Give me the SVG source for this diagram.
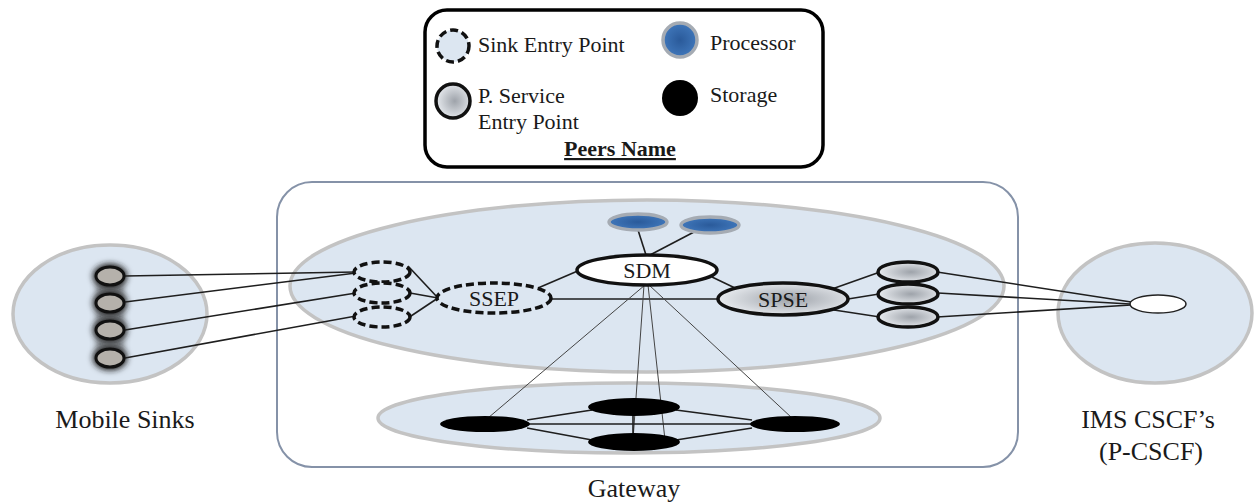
<svg xmlns="http://www.w3.org/2000/svg" width="1254" height="502" viewBox="0 0 1254 502">
  <defs>
    <radialGradient id="gPSE" cx="55%" cy="50%" r="60%">
      <stop offset="0" stop-color="#9ea3aa"/>
      <stop offset="1" stop-color="#eef1f5"/>
    </radialGradient>
    <radialGradient id="gProc" cx="50%" cy="50%" r="55%">
      <stop offset="0" stop-color="#2a5a9a"/>
      <stop offset="1" stop-color="#4179bd"/>
    </radialGradient>
    <filter id="halo" x="-50%" y="-50%" width="200%" height="200%">
      <feGaussianBlur stdDeviation="3"/>
    </filter>
  </defs>
  <style>
    .cloud { fill: #dce6f1; stroke: #c3c3c3; stroke-width: 3.5; }
    text { font-family: "Liberation Serif", "Times New Roman", "DejaVu Serif", serif; fill: #1a1a1a; }
    .lbl { font-size: 26px; text-anchor: middle; }
    .node-t { font-size: 22px; text-anchor: middle; }
    .leg-t { font-size: 22px; }
    .sep { fill: #dce6f1; stroke: #111; stroke-width: 3.5; stroke-dasharray: 8 4; }
    .pse { fill: url(#gPSE); stroke: #111; stroke-width: 3.5; }
    .proc { fill: url(#gProc); stroke: #a5abb3; stroke-width: 3.5; }
    .stor { fill: #000; }
    .sink { fill: #b5b1ab; stroke: #111; stroke-width: 3; }
    .edge { stroke: #1e1e1e; stroke-width: 1.6; fill: none; }
    .thin { stroke: #444; stroke-width: 1; fill: none; }
  </style>

  <!-- Legend -->
  <g id="legend">
    <rect x="425" y="10" width="398" height="157" rx="22" fill="#fff" stroke="#000" stroke-width="3.5"/>
    <circle cx="453" cy="46" r="16" class="sep"/>
    <text x="478" y="52" class="leg-t">Sink Entry Point</text>
    <circle cx="680" cy="40" r="17" class="proc"/>
    <text x="710" y="50" class="leg-t">Processor</text>
    <circle cx="453" cy="101" r="17" class="pse"/>
    <text x="478" y="103" class="leg-t">P. Service</text>
    <text x="478" y="129" class="leg-t">Entry Point</text>
    <circle cx="680" cy="98" r="18" class="stor"/>
    <text x="710" y="102" class="leg-t">Storage</text>
    <text x="620" y="156" class="node-t" font-weight="bold" text-decoration="underline">Peers Name</text>
  </g>

  <!-- Containers -->
  <g id="gateway">
    <rect x="277" y="182" width="741" height="285" rx="35" fill="#fff" stroke="#8592a8" stroke-width="2"/>
    <ellipse cx="647" cy="286" rx="357" ry="86" class="cloud"/>
    <ellipse cx="629" cy="418" rx="251" ry="35" class="cloud"/>
    <text x="634" y="497" class="lbl" font-size="24">Gateway</text>
  </g>
  <g id="mobile-sinks">
    <ellipse cx="110" cy="314" rx="97" ry="69" class="cloud"/>
    <text x="125" y="428" class="lbl">Mobile Sinks</text>
  </g>
  <g id="ims">
    <ellipse cx="1155" cy="313" rx="97" ry="70" class="cloud"/>
    <text x="1148" y="428" class="lbl">IMS CSCF’s</text>
    <text x="1151" y="460" class="lbl">(P-CSCF)</text>
  </g>

  <!-- Connectors -->
  <g id="connectors">
    <line x1="125" y1="276" x2="356" y2="272" class="edge"/>
    <line x1="125" y1="302" x2="356" y2="273" class="edge"/>
    <line x1="125" y1="330" x2="356" y2="293" class="edge"/>
    <line x1="125" y1="358" x2="356" y2="316" class="edge"/>
    <line x1="408" y1="266" x2="438" y2="298" class="edge"/>
    <line x1="410" y1="293" x2="438" y2="298" class="edge"/>
    <line x1="408" y1="318" x2="438" y2="298" class="edge"/>
    <line x1="538" y1="288" x2="580" y2="270" class="edge"/>
    <line x1="551" y1="299" x2="718" y2="299" class="edge"/>
    <line x1="638" y1="230" x2="646" y2="255" class="edge"/>
    <line x1="694" y1="232" x2="650" y2="255" class="edge"/>
    <line x1="712" y1="277" x2="735" y2="288" class="edge"/>
    <line x1="832" y1="289" x2="880" y2="272" class="edge"/>
    <line x1="848" y1="299" x2="879" y2="294" class="edge"/>
    <line x1="834" y1="310" x2="880" y2="317" class="edge"/>
    <line x1="937" y1="272" x2="1131" y2="302" class="edge"/>
    <line x1="938" y1="293" x2="1130" y2="304" class="edge"/>
    <line x1="937" y1="317" x2="1131" y2="305" class="edge"/>
    <line x1="645" y1="285" x2="488" y2="418" class="thin"/>
    <line x1="644" y1="285" x2="633" y2="440" class="thin"/>
    <line x1="648" y1="285" x2="665" y2="440" class="thin"/>
    <line x1="649" y1="285" x2="792" y2="418" class="thin"/>
    <line x1="527" y1="420" x2="592" y2="410" class="edge"/>
    <line x1="527" y1="428" x2="592" y2="440" class="edge"/>
    <line x1="752" y1="420" x2="676" y2="410" class="edge"/>
    <line x1="752" y1="428" x2="676" y2="440" class="edge"/>
    <line x1="528" y1="424" x2="752" y2="424" class="edge" stroke-width="2"/>
    <line x1="633" y1="407" x2="633" y2="442" class="edge"/>
  </g>

  <!-- Mobile sink nodes -->
  <g id="sink-nodes">
    <rect x="96" y="266" width="28" height="102" rx="12" fill="#333" opacity="0.5" filter="url(#halo)"/>
    <ellipse cx="110" cy="276" rx="17" ry="12" fill="#222" filter="url(#halo)"/>
    <ellipse cx="110" cy="303" rx="17" ry="12" fill="#222" filter="url(#halo)"/>
    <ellipse cx="110" cy="330" rx="17" ry="12" fill="#222" filter="url(#halo)"/>
    <ellipse cx="110" cy="358" rx="17" ry="12" fill="#222" filter="url(#halo)"/>
    <g id="sink1"><ellipse cx="110" cy="276" rx="14" ry="9" class="sink"/></g>
    <g id="sink2"><ellipse cx="110" cy="303" rx="14" ry="9" class="sink"/></g>
    <g id="sink3"><ellipse cx="110" cy="330" rx="14" ry="9" class="sink"/></g>
    <g id="sink4"><ellipse cx="110" cy="358" rx="14" ry="9" class="sink"/></g>
  </g>

  <!-- Sink entry points -->
  <g id="sep1"><ellipse cx="382" cy="272" rx="28" ry="10" class="sep"/></g>
  <g id="sep2"><ellipse cx="382" cy="293" rx="28" ry="10" class="sep"/></g>
  <g id="sep3"><ellipse cx="382" cy="317" rx="28" ry="10" class="sep"/></g>

  <g id="ssep">
    <ellipse cx="494" cy="298" rx="57" ry="15" class="sep"/>
    <text x="494" y="306" class="node-t">SSEP</text>
  </g>
  <g id="sdm">
    <ellipse cx="647" cy="270" rx="70" ry="15" fill="#fff" stroke="#111" stroke-width="3.5"/>
    <text x="647" y="278" class="node-t">SDM</text>
  </g>
  <g id="proc1"><ellipse cx="638" cy="222" rx="29" ry="8" class="proc"/></g>
  <g id="proc2"><ellipse cx="710" cy="225" rx="29" ry="8" class="proc"/></g>
  <g id="spse">
    <ellipse cx="783" cy="299" rx="65" ry="16" class="pse"/>
    <text x="783" y="307" class="node-t">SPSE</text>
  </g>
  <g id="pse1"><ellipse cx="908" cy="272" rx="30" ry="10" class="pse"/></g>
  <g id="pse2"><ellipse cx="908" cy="294" rx="30" ry="10" class="pse"/></g>
  <g id="pse3"><ellipse cx="908" cy="317" rx="30" ry="10" class="pse"/></g>
  <g id="pcscf"><ellipse cx="1158" cy="304" rx="28" ry="9" fill="#fff" stroke="#222" stroke-width="1.5"/></g>

  <!-- Storage nodes -->
  <g id="stor-left"><ellipse cx="485" cy="424" rx="45" ry="8" class="stor"/></g>
  <g id="stor-top"><ellipse cx="634" cy="407" rx="46" ry="9" class="stor"/></g>
  <g id="stor-bottom"><ellipse cx="634" cy="442" rx="46" ry="9" class="stor"/></g>
  <g id="stor-right"><ellipse cx="795" cy="424" rx="45" ry="8" class="stor"/></g>
</svg>
